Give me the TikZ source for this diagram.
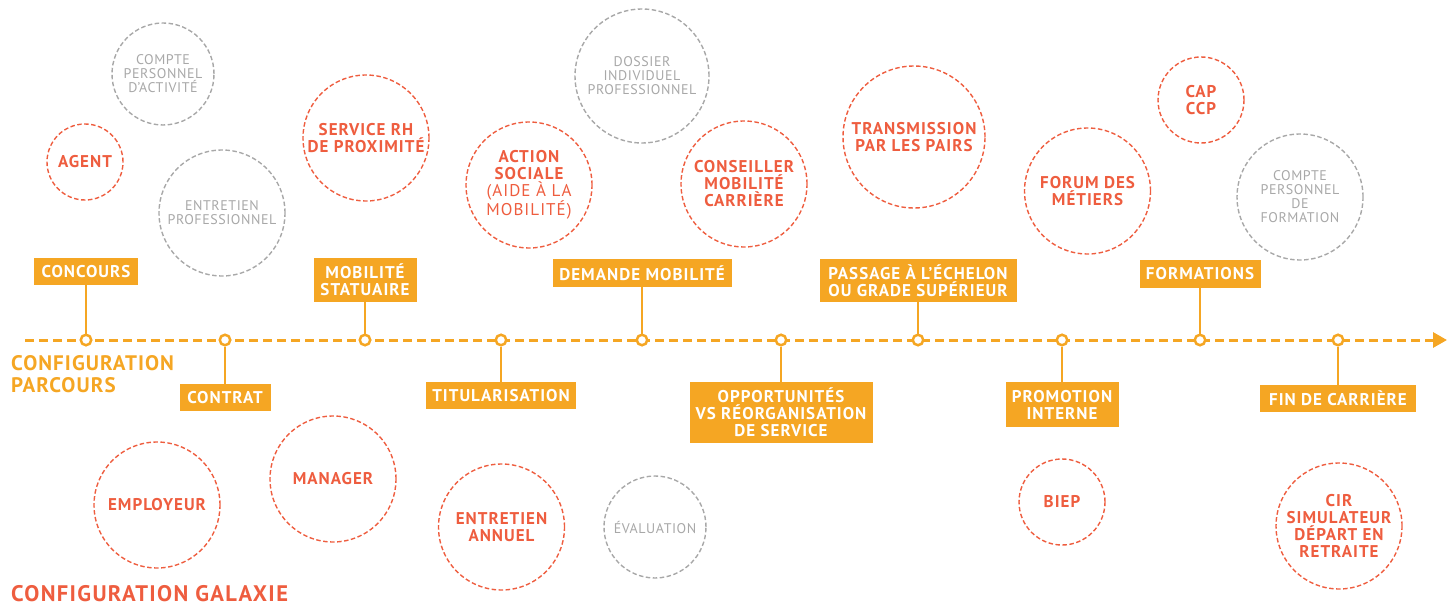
\documentclass[tikz,border=0pt]{standalone}
\usepackage{fontspec}
\setmainfont{PT Sans}
\newfontfamily\lblfont{PT Sans}[LetterSpace=6]
\newfontfamily\greyfont{PT Sans}[LetterSpace=4]
\newfontfamily\ttlfont{PT Sans}[LetterSpace=5]
\newfontfamily\ttlfontb{PT Sans}[LetterSpace=6]
\usetikzlibrary{arrows.meta}
\definecolor{parc}{HTML}{F5A623}
\definecolor{gal}{HTML}{EE5D3F}
\definecolor{gry}{HTML}{A8A8A8}
\begin{document}
\begin{tikzpicture}[x=1pt,y=-1pt,
  box/.style={fill=parc,text=white,font=\lblfont\bfseries\fontsize{17}{17}\selectfont,align=center,inner sep=0pt},
  ms/.style={circle,draw=parc,fill=white,line width=2.5pt,minimum size=10.5pt,inner sep=0pt},
  link/.style={draw=parc,line width=2.5pt},
  timeline/.style={draw=parc,line width=3pt,dash pattern=on 9pt off 5pt,-{Triangle[length=14pt,width=15pt]}},
  rc/.style={circle,draw=gal,dash pattern=on 4.5pt off 2.5pt,line width=1.4pt,text=gal,font=\lblfont\bfseries\fontsize{17}{17}\selectfont,align=center,inner sep=0pt},
  gc/.style={circle,draw=gry,dash pattern=on 4.5pt off 2.5pt,line width=1.4pt,text=gry,font=\greyfont\fontsize{14}{14}\selectfont,align=center,inner sep=0pt},
  ttl/.style={inner sep=0pt}
]
\useasboundingbox (0,0) rectangle (1447,604);
% timeline
\coordinate (tlS) at (25,340);
\coordinate (tlE) at (1447,340);
\draw[timeline] (tlS) -- (tlE);
% titles
\node[ttl,text=parc,anchor=north west,align=left,font=\ttlfont\bfseries\fontsize{21}{22}\selectfont] (tparc) at (11,355) {CONFIGURATION\\PARCOURS};
\node[ttl,text=gal,anchor=base west,font=\ttlfontb\bfseries\fontsize{22.5}{22}\selectfont] (tgal) at (11,601) {CONFIGURATION GALAXIE};
% milestone boxes
\node[box,minimum width=104pt,minimum height=27pt] (b1) at (86,271.5) {CONCOURS};
\node[box,minimum width=91pt,minimum height=27pt] (b2) at (225,397.5) {CONTRAT};
\node[box,minimum width=103pt,minimum height=44pt] (b3) at (365,280) {MOBILITÉ\\STATUAIRE};
\node[box,minimum width=150pt,minimum height=27pt] (b4) at (501,395.5) {TITULARISATION};
\node[box,minimum width=179pt,minimum height=28pt] (b5) at (642,273) {DEMANDE MOBILITÉ};
\node[box,minimum width=183pt,minimum height=61pt] (b6) at (781,412.5) {OPPORTUNITÉS\\VS RÉORGANISATION\\DE SERVICE};
\node[box,minimum width=197pt,minimum height=43pt] (b7) at (918,280.5) {PASSAGE À L’ÉCHELON\\OU GRADE SUPÉRIEUR};
\node[box,minimum width=113pt,minimum height=45pt] (b8) at (1062,404.5) {PROMOTION\\INTERNE};
\node[box,minimum width=121pt,minimum height=28pt] (b9) at (1200,274) {FORMATIONS};
\node[box,minimum width=156pt,minimum height=27pt] (b10) at (1338,398.5) {FIN DE CARRIÈRE};
% milestones
\foreach \i/\x in {1/86,2/225,3/365,4/501,5/642,6/781,7/918,8/1062,9/1200,10/1338}{
  \node[ms] (m\i) at (\x,340) {};
  \draw[link] (b\i) -- (m\i);
}
% galaxy circles (red)
\node[rc,minimum size=76pt] (agent) at (85,162) {AGENT};
\node[rc,minimum size=126pt] (srh) at (366,138) {SERVICE RH\\DE PROXIMITÉ};
\node[rc,minimum size=126pt] (asoc) at (529,185) {ACTION\\SOCIALE\\{\mdseries(AIDE À LA}\\{\mdseries MOBILITÉ)}};
\node[rc,minimum size=126pt] (cmc) at (744,184) {CONSEILLER\\MOBILITÉ\\CARRIÈRE};
\node[rc,minimum size=142pt] (tpp) at (914,137) {TRANSMISSION\\PAR LES PAIRS};
\node[rc,minimum size=126pt] (fdm) at (1087.5,191) {FORUM DES\\MÉTIERS};
\node[rc,minimum size=86pt] (cap) at (1201,100) {CAP\\CCP};
\node[rc,minimum size=126pt] (emp) at (157,505) {EMPLOYEUR};
\node[rc,minimum size=126pt] (man) at (333,479) {MANAGER};
\node[rc,minimum size=126pt] (ea) at (501.5,527) {ENTRETIEN\\ANNUEL};
\node[rc,minimum size=86pt] (biep) at (1062,502) {BIEP};
\node[rc,minimum size=126pt] (cir) at (1339,526) {CIR\\SIMULATEUR\\DÉPART EN\\RETRAITE};
% galaxy circles (grey)
\node[gc,minimum size=102pt] (cpa) at (163,74) {COMPTE\\PERSONNEL\\D’ACTIVITÉ};
\node[gc,minimum size=126pt] (ep) at (222,213) {ENTRETIEN\\PROFESSIONNEL};
\node[gc,minimum size=134pt] (dip) at (642,76) {DOSSIER\\INDIVIDUEL\\PROFESSIONNEL};
\node[gc,minimum size=126pt] (cpf) at (1300,197) {COMPTE\\PERSONNEL\\DE\\FORMATION};
\node[gc,minimum size=102pt] (eval) at (655,527) {ÉVALUATION};
\end{tikzpicture}
\end{document}
